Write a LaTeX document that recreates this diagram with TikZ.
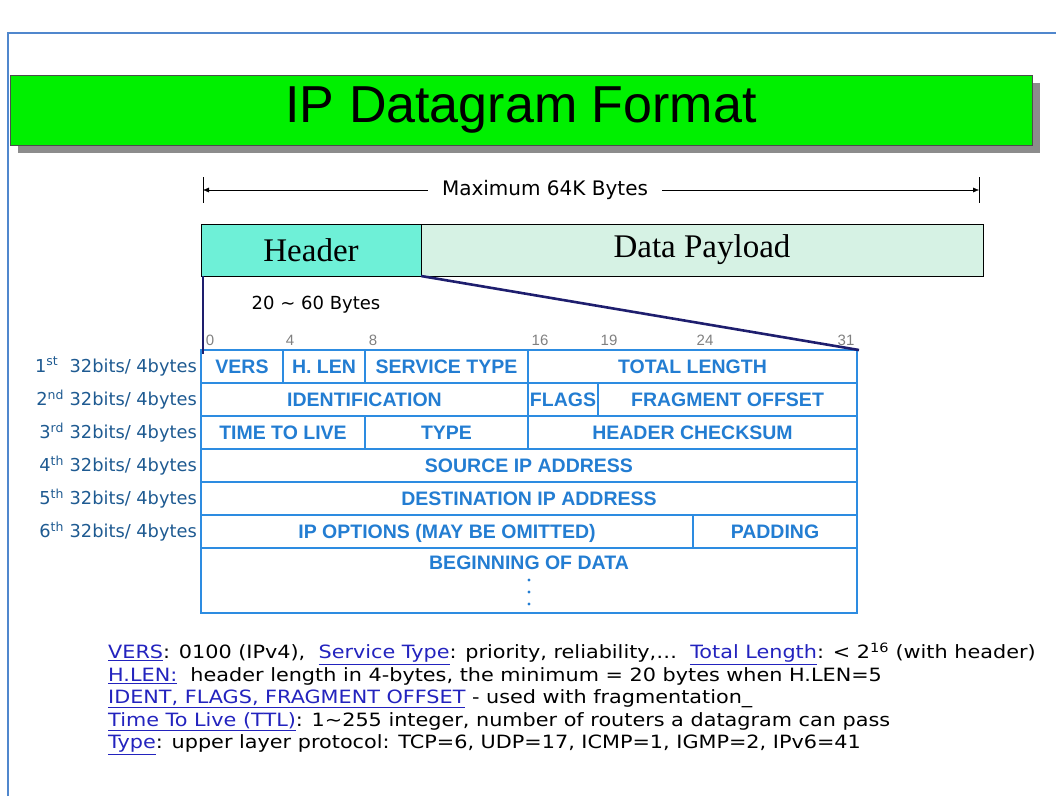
\documentclass[tikz,border=0pt]{standalone}
\usepackage{fontspec}
\usetikzlibrary{arrows.meta}
\usetikzlibrary{positioning}
\usetikzlibrary{shadows}
\newfontfamily\arialfont{Liberation Sans}
\newfontfamily\romanfont{Liberation Serif}
\newfontfamily\tahomafont{DejaVu Sans}
\newfontfamily\notefont{DejaVu Sans}[FakeStretch=1.135]
\definecolor{titlegreen}{RGB}{0, 240, 0}
\definecolor{hdrfill}{RGB}{110, 240, 215}
\definecolor{datafill}{RGB}{214, 242, 228}
\definecolor{navy}{RGB}{30, 30, 110}
\definecolor{tblue}{RGB}{45, 140, 225}
\definecolor{txtblue}{RGB}{35, 125, 210}
\definecolor{rowlab}{RGB}{30, 90, 145}
\definecolor{linkblue}{RGB}{35, 35, 190}
\definecolor{frameblue}{RGB}{80, 135, 205}
\newcommand{\lnk}[1]{\textcolor{linkblue}{\underline{#1}}}
\tikzset{cell/.style = {draw=tblue, line width=1.8pt, anchor=north west, inner sep=0pt,
                        outer sep=0pt, minimum height=33pt, text=txtblue,
                        text height=14pt, text depth=0pt,
                        font=\arialfont\bfseries\fontsize{19.5}{19.5}\selectfont},
         rowlabel/.style = {text=rowlab, inner sep=0pt,
                            font=\tahomafont\fontsize{17.8}{18}\selectfont},
         bitno/.style = {text=gray, inner sep=0pt, font=\arialfont\fontsize{15}{15}\selectfont},
         bigbox/.style = {draw, anchor=north west, inner sep=0pt, outer sep=0pt,
                          minimum height=52pt, font=\romanfont\fontsize{33}{33}\selectfont},
         zoomline/.style = {navy, line width=2.6pt}}

\begin{document}
\begin{tikzpicture}[x=1pt, y=-1pt]
    \useasboundingbox (0, 0) rectangle (1056, 796);
    \draw [frameblue, line width=1.5pt] (8, 796) -- (8, 33) -- (1056, 33);

    % title bar
    \node [draw=black!70, fill=titlegreen, minimum width=1022pt, minimum height=70pt,
           drop shadow={shadow xshift=8pt, shadow yshift=-8pt, fill=gray!90, opacity=1},
           font=\arialfont\fontsize{52}{52}\selectfont] (title) at (521, 110) {IP Datagram Format};

    % maximum size
    \node [font=\tahomafont\fontsize{20}{20}\selectfont, inner xsep=14pt] (maxtxt) at (545, 190) {Maximum 64K Bytes};
    \coordinate (maxl) at (203, 190);
    \coordinate (maxr) at (979, 190);
    \draw [-{Latex[length=6pt, width=5pt]}] (maxtxt) -- (maxl);
    \draw [-{Latex[length=6pt, width=5pt]}] (maxtxt) -- (maxr);
    \draw ([yshift=13pt] maxl) -- ([yshift=-13pt] maxl);
    \draw ([yshift=13pt] maxr) -- ([yshift=-13pt] maxr);

    \node [bigbox, fill=hdrfill, minimum width=220pt] (hdr) at (201, 224) {Header};
    \node [bigbox, fill=datafill, minimum width=562pt] (data) at (hdr.north east) {Data Payload};

    \node [font=\tahomafont\fontsize{18}{18}\selectfont] (hlen) at (316, 305) {20 \textasciitilde\ 60 Bytes};

    % bit numbers
    \node [bitno] (b0) at (210, 340) {0};
    \node [bitno] (b4) at (290, 340) {4};
    \node [bitno] (b8) at (373, 340) {8};
    \node [bitno] (b16) at (540, 340) {16};
    \node [bitno] (b19) at (609, 340) {19};
    \node [bitno] (b24) at (705, 340) {24};
    \node [bitno] (b31) at (846, 340) {31};

    % header words
    \node [cell, minimum width=82pt] (vers) at (201, 350) {VERS};
    \node [cell, minimum width=82pt] (hl) at (vers.north east) {H. LEN};
    \node [cell, minimum width=163pt] (serv) at (hl.north east) {SERVICE TYPE};
    \node [cell, minimum width=329pt] (total) at (serv.north east) {TOTAL LENGTH};

    \node [cell, minimum width=327pt] (ident) at (vers.south west) {IDENTIFICATION};
    \node [cell, minimum width=70pt] (flags) at (ident.north east) {FLAGS};
    \node [cell, minimum width=259pt] (frag) at (flags.north east) {FRAGMENT OFFSET};

    \node [cell, minimum width=164pt] (ttl) at (ident.south west) {TIME TO LIVE};
    \node [cell, minimum width=163pt] (type) at (ttl.north east) {TYPE};
    \node [cell, minimum width=329pt] (check) at (type.north east) {HEADER CHECKSUM};

    \node [cell, minimum width=656pt] (src) at (ttl.south west) {SOURCE IP ADDRESS};
    \node [cell, minimum width=656pt] (dst) at (src.south west) {DESTINATION IP ADDRESS};

    \node [cell, minimum width=492pt] (opt) at (dst.south west) {IP OPTIONS (MAY BE OMITTED)};
    \node [cell, minimum width=164pt] (pad) at (opt.north east) {PADDING};

    \node [cell, minimum width=656pt, minimum height=65pt] (body) at (opt.south west) {};
    \node [cell, draw=none, anchor=north, minimum height=0pt, inner sep=7pt] (begin) at (body.north) {BEGINNING OF DATA};
    \foreach \yy in {580, 592, 604}
        \fill [txtblue] (529, \yy) circle (1.7pt);

    % row labels
    \node [rowlabel, left=4pt of vers] (r1) {1\textsuperscript{st}\ \ 32bits/ 4bytes};
    \node [rowlabel, left=4pt of ident] (r2) {2\textsuperscript{nd} 32bits/ 4bytes};
    \node [rowlabel, left=4pt of ttl] (r3) {3\textsuperscript{rd} 32bits/ 4bytes};
    \node [rowlabel, left=4pt of src] (r4) {4\textsuperscript{th} 32bits/ 4bytes};
    \node [rowlabel, left=4pt of dst] (r5) {5\textsuperscript{th} 32bits/ 4bytes};
    \node [rowlabel, left=4pt of opt] (r6) {6\textsuperscript{th} 32bits/ 4bytes};

    % zoom from header to the table
    \draw [zoomline] ([xshift=2pt] hdr.south west) -- ([xshift=2pt, yshift=-4pt] vers.north west);
    \draw [zoomline] (hdr.south east) -- ([xshift=2pt] total.north east);

    % notes
    \node [anchor=north west, align=left, inner sep=0pt,
           font=\notefont\fontsize{18.3}{22.5}\selectfont] (notes) at (108, 643) {%
      \lnk{VERS}: 0100 (IPv4),\ \ \lnk{Service Type}: priority, reliability,\ldots\ \ \lnk{Total Length}: < 2\textsuperscript{16} (with header)\\
      \lnk{H.LEN:}\ \ header length in 4-bytes, the minimum = 20 bytes when H.LEN=5\\
      \lnk{IDENT, FLAGS, FRAGMENT OFFSET} - used with fragmentation\_\\
      \lnk{Time To Live (TTL)}: 1\textasciitilde255 integer, number of routers a datagram can pass\\
      \lnk{Type}: upper layer protocol: TCP=6, UDP=17, ICMP=1, IGMP=2, IPv6=41};
\end{tikzpicture}
\end{document}
